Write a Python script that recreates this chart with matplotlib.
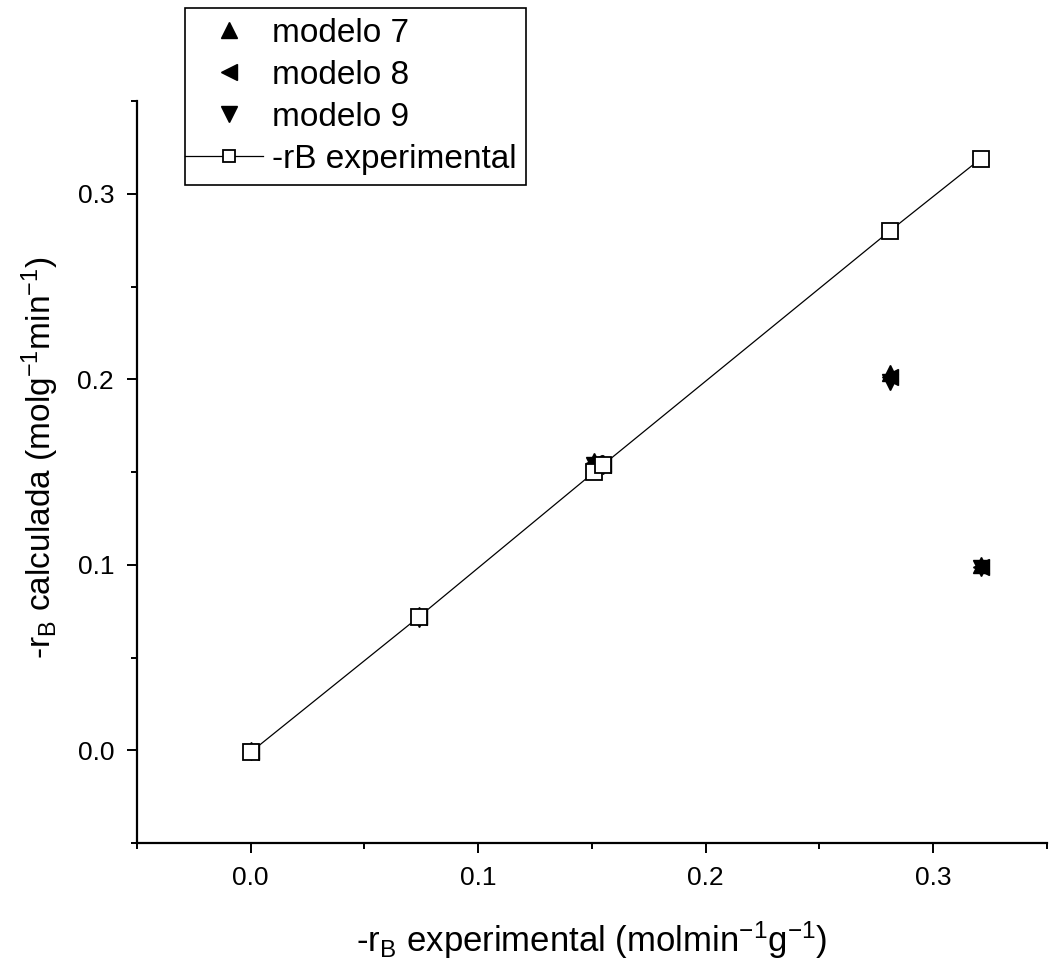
import matplotlib
matplotlib.use("Agg")
import matplotlib.pyplot as plt
import numpy as np
from matplotlib.ticker import MultipleLocator, FormatStrFormatter

plt.rcParams['font.family'] = ['Liberation Sans', 'DejaVu Sans']
plt.rcParams['mathtext.fontset'] = 'custom'
plt.rcParams['mathtext.rm'] = 'Liberation Sans'
plt.rcParams['mathtext.it'] = 'Liberation Sans'

# experimental rates (x) and calculated values
x_exp = [0.0, 0.074, 0.151, 0.155, 0.281, 0.321]
y_exp = [-0.001, 0.072, 0.150, 0.154, 0.280, 0.319]
y_m7 = [0.0, 0.073, 0.156, 0.155, 0.2035, 0.100]
y_m8 = [-0.001, 0.072, 0.155, 0.154, 0.201, 0.099]
y_m9 = [-0.001, 0.071, 0.154, 0.153, 0.1985, 0.098]

fig = plt.figure(figsize=(10.49, 9.66), dpi=100)
ax = fig.add_axes([0.1306, 0.1273, 0.8674, 0.7681])

ax.plot(x_exp, y_m7, linestyle='none', marker='^', color='black', markersize=12, label='modelo 7')
ax.plot(x_exp, y_m8, linestyle='none', marker='<', color='black', markersize=12, label='modelo 8')
ax.plot(x_exp, y_m9, linestyle='none', marker='v', color='black', markersize=12, label='modelo 9')
ax.plot(x_exp, y_exp, linestyle='-', linewidth=0.9, color='black', marker='s', markersize=11.5,
        markerfacecolor='white', markeredgecolor='black', markeredgewidth=1.3,
        label='-rB experimental')

ax.set_xlim(-0.05, 0.35)
ax.set_ylim(-0.05, 0.35)
ax.xaxis.set_major_locator(MultipleLocator(0.1))
ax.xaxis.set_minor_locator(MultipleLocator(0.05))
ax.yaxis.set_major_locator(MultipleLocator(0.1))
ax.yaxis.set_minor_locator(MultipleLocator(0.05))
ax.xaxis.set_major_formatter(FormatStrFormatter('%.1f'))
ax.yaxis.set_major_formatter(FormatStrFormatter('%.1f'))

for s in ['top', 'right']:
    ax.spines[s].set_visible(False)
for s in ['left', 'bottom']:
    ax.spines[s].set_linewidth(1.6)

ax.tick_params(which='major', direction='out', length=7.5, width=1.4, labelsize=19, pad=9)
ax.tick_params(which='minor', direction='out', length=4.5, width=1.4)

ax.set_xlabel(r'-r$_\mathrm{B}$ experimental (molmin$^\mathrm{-1}$g$^\mathrm{-1}$)', fontsize=25, labelpad=21)
ax.set_ylabel(r'-r$_\mathrm{B}$ calculada (molg$^\mathrm{-1}$min$^\mathrm{-1}$)', fontsize=24)
ax.yaxis.set_label_coords(-0.083, 0.519)

bpad = 0.3
leg = fig.legend(loc='upper left', bbox_to_anchor=(0.1764, 0.9917), fontsize=24,
                 frameon=True, fancybox=False, edgecolor='black', framealpha=1,
                 numpoints=1, handlelength=2.05, handletextpad=0.25, labelspacing=0.33,
                 borderpad=bpad, borderaxespad=0)
leg.get_frame().set_linewidth(1.2)
for h in leg.legend_handles[:3]:
    h.set_markersize(11)
hexp = leg.legend_handles[3]
hexp.set_markersize(8)
xd = np.asarray(hexp.get_xdata(), dtype=float)
if xd.size == 3:
    xd[0] -= bpad * 24
    hexp.set_xdata(xd)

fig.savefig('out.png', dpi=100)
